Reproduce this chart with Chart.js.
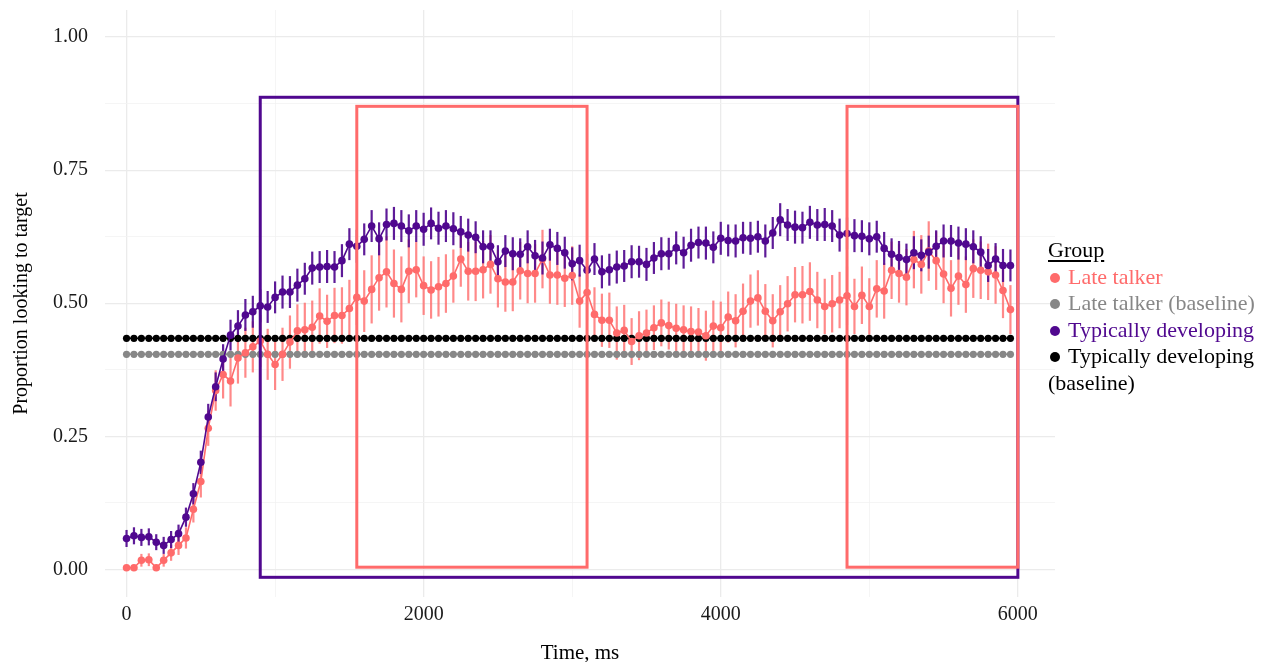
<!DOCTYPE html>
<html>
<head>
<meta charset="utf-8">
<script src="https://cdn.jsdelivr.net/npm/chart.js@4.4.1/dist/chart.umd.min.js"></script>
<style>
html,body{margin:0;padding:0;background:#ffffff;}
#wrap{position:relative;width:1266px;height:662px;overflow:hidden;}
#legend{position:absolute;left:1048px;top:237px;font-family:"Liberation Serif","Times New Roman",serif;font-size:22px;line-height:26.6px;white-space:nowrap;}
#legend .ttl{text-decoration:underline;text-underline-offset:3px;color:#000;}
#legend .dot{display:inline-block;width:10px;height:10px;border-radius:50%;margin-left:2px;margin-right:8px;vertical-align:1px;}
</style>
</head>
<body>
<div id="wrap">
<canvas id="c" width="1266" height="662"></canvas>
<div id="legend"></div>
</div>
<script>
// ---- data ----
const times = Array.from({length: 120}, (_, i) => i * 50); // sampling bins, ms

const lateTalker = [
0.003,0.003,0.017,0.018,0.003,0.017,0.031,0.045,0.059,0.113,
0.165,0.265,0.336,0.366,0.354,0.397,0.407,0.418,0.429,0.404,
0.385,0.404,0.427,0.448,0.450,0.455,0.476,0.466,0.477,0.477,
0.490,0.511,0.504,0.526,0.548,0.559,0.537,0.526,0.560,0.563,
0.533,0.525,0.531,0.537,0.551,0.583,0.560,0.560,0.563,0.573,
0.546,0.540,0.540,0.561,0.556,0.556,0.583,0.553,0.553,0.547,
0.552,0.504,0.520,0.479,0.468,0.468,0.444,0.449,0.428,0.439,
0.444,0.454,0.463,0.458,0.453,0.450,0.447,0.446,0.439,0.457,
0.454,0.474,0.467,0.485,0.504,0.510,0.485,0.467,0.484,0.499,
0.516,0.516,0.522,0.506,0.494,0.499,0.506,0.514,0.494,0.515,
0.494,0.527,0.523,0.562,0.556,0.549,0.582,0.573,0.598,0.580,
0.555,0.528,0.551,0.535,0.565,0.562,0.559,0.553,0.524,0.488
];
const lateTalkerErr = [
0.004,0.004,0.012,0.012,0.004,0.012,0.015,0.018,0.020,0.025,
0.030,0.033,0.038,0.045,0.048,0.048,0.047,0.048,0.049,0.048,
0.048,0.050,0.050,0.050,0.051,0.050,0.052,0.050,0.052,0.053,
0.054,0.052,0.058,0.064,0.062,0.067,0.064,0.062,0.060,0.052,
0.055,0.054,0.056,0.055,0.050,0.052,0.055,0.056,0.054,0.055,
0.054,0.056,0.055,0.054,0.056,0.055,0.055,0.054,0.056,0.054,
0.055,0.050,0.052,0.051,0.050,0.052,0.050,0.048,0.044,0.046,
0.044,0.042,0.044,0.045,0.046,0.046,0.047,0.045,0.047,0.048,
0.049,0.048,0.050,0.052,0.050,0.052,0.051,0.050,0.050,0.052,
0.052,0.054,0.055,0.053,0.052,0.054,0.053,0.055,0.052,0.054,
0.053,0.054,0.052,0.054,0.055,0.053,0.054,0.055,0.056,0.055,
0.055,0.053,0.054,0.053,0.055,0.054,0.053,0.054,0.052,0.046
];
const typicallyDeveloping = [
0.058,0.063,0.060,0.061,0.051,0.045,0.056,0.067,0.098,0.142,
0.201,0.286,0.343,0.395,0.440,0.457,0.478,0.484,0.495,0.493,
0.511,0.521,0.521,0.534,0.546,0.566,0.568,0.569,0.568,0.580,
0.611,0.607,0.620,0.645,0.621,0.648,0.650,0.645,0.636,0.645,
0.639,0.650,0.641,0.645,0.640,0.634,0.628,0.624,0.606,0.607,
0.578,0.598,0.593,0.592,0.606,0.589,0.585,0.610,0.603,0.595,
0.574,0.580,0.562,0.583,0.559,0.563,0.568,0.570,0.578,0.578,
0.573,0.585,0.593,0.593,0.604,0.595,0.609,0.614,0.613,0.605,
0.622,0.618,0.617,0.623,0.622,0.625,0.617,0.632,0.657,0.647,
0.643,0.642,0.652,0.647,0.648,0.645,0.628,0.631,0.627,0.626,
0.621,0.625,0.603,0.592,0.586,0.582,0.595,0.590,0.596,0.607,
0.617,0.617,0.613,0.611,0.606,0.596,0.571,0.583,0.571,0.571
];
const typicallyDevelopingErr = [
0.016,0.016,0.016,0.016,0.015,0.016,0.016,0.017,0.018,0.020,
0.022,0.025,0.027,0.028,0.029,0.030,0.030,0.030,0.031,0.030,
0.030,0.031,0.030,0.031,0.030,0.031,0.030,0.031,0.030,0.031,
0.030,0.031,0.030,0.030,0.031,0.030,0.031,0.030,0.031,0.030,
0.031,0.030,0.031,0.030,0.031,0.030,0.031,0.030,0.031,0.030,
0.031,0.030,0.031,0.030,0.031,0.030,0.031,0.030,0.031,0.030,
0.031,0.030,0.031,0.030,0.031,0.030,0.031,0.030,0.031,0.030,
0.031,0.030,0.031,0.030,0.031,0.030,0.031,0.030,0.031,0.030,
0.031,0.030,0.031,0.030,0.031,0.030,0.031,0.030,0.031,0.030,
0.031,0.030,0.031,0.030,0.031,0.030,0.031,0.030,0.031,0.030,
0.031,0.030,0.031,0.030,0.031,0.030,0.031,0.030,0.031,0.030,
0.031,0.030,0.031,0.030,0.031,0.030,0.031,0.030,0.031,0.030
];
const baselineLateTalker = 0.404;
const baselineTypical = 0.434;

const yTicks = [0, 0.25, 0.5, 0.75, 1];
const yMinorTicks = [0.125, 0.375, 0.625, 0.875];
const xTicks = [0, 2000, 4000, 6000];
const xMinorTicks = [1000, 3000, 5000];

// analysis windows (data space)
const windowsX0 = [900, 1550, 4850];
const windowsX1 = [6000, 3100, 6000];
const windowsY0 = [-0.015, 0.004, 0.004];
const windowsY1 = [0.887, 0.870, 0.870];
const windowsGroup = ['td', 'lt', 'lt'];

// ---- styles ----
const RED = '#FF6B6B';
const RED_BAR = 'rgba(255,107,107,0.8)';
const PURPLE = '#50088F';
const PURPLE_BAR = 'rgba(80,8,143,0.92)';
const GREY = '#878787';
const BLACK = '#000000';

const pts = arr => times.map((t, i) => ({x: t, y: arr[i]}));
const flat = v => times.map(t => ({x: t, y: v}));

const errorBars = {
  id: 'errorBars',
  beforeDatasetsDraw(chart) {
    const {ctx, scales: {x, y}} = chart;
    chart.data.datasets.forEach(ds => {
      if (!ds.errors) return;
      ctx.save();
      ctx.strokeStyle = ds.errColor;
      ctx.lineWidth = 2.2;
      ds.data.forEach((p, i) => {
        const px = x.getPixelForValue(p.x);
        ctx.beginPath();
        ctx.moveTo(px, y.getPixelForValue(p.y - ds.errors[i]));
        ctx.lineTo(px, y.getPixelForValue(p.y + ds.errors[i]));
        ctx.stroke();
      });
      ctx.restore();
    });
  }
};

const windowsPlugin = {
  id: 'windows',
  afterDatasetsDraw(chart) {
    const {ctx, scales: {x, y}} = chart;
    ctx.save();
    ctx.lineWidth = 3;
    windowsX0.forEach((x0, i) => {
      const l = x.getPixelForValue(x0), r = x.getPixelForValue(windowsX1[i]);
      const t = y.getPixelForValue(windowsY1[i]), b = y.getPixelForValue(windowsY0[i]);
      ctx.strokeStyle = windowsGroup[i] === 'td' ? PURPLE : RED;
      ctx.strokeRect(l, t, r - l, b - t);
    });
    ctx.restore();
  }
};

Chart.defaults.font.family = '"Liberation Serif","Times New Roman",serif';
Chart.defaults.color = '#1a1a1a';

const isIn = (arr, v) => arr.some(a => Math.abs(a - v) < 1e-9);

new Chart(document.getElementById('c'), {
  type: 'line',
  data: {
    datasets: [
      {label: 'Typically developing (baseline)', data: flat(baselineTypical), borderColor: BLACK, backgroundColor: BLACK,
       borderWidth: 1.5, pointRadius: 3.6, pointBorderWidth: 0, order: 3},
      {label: 'Late talker (baseline)', data: flat(baselineLateTalker), borderColor: GREY, backgroundColor: GREY,
       borderWidth: 1.5, pointRadius: 3.6, pointBorderWidth: 0, order: 4},
      {label: 'Late talker', data: pts(lateTalker), errors: lateTalkerErr, errColor: RED_BAR, borderColor: RED, backgroundColor: RED,
       borderWidth: 1.6, pointRadius: 3.8, pointBorderWidth: 0, order: 2},
      {label: 'Typically developing', data: pts(typicallyDeveloping), errors: typicallyDevelopingErr, errColor: PURPLE_BAR, borderColor: PURPLE, backgroundColor: PURPLE,
       borderWidth: 1.6, pointRadius: 3.8, pointBorderWidth: 0, order: 1}
    ]
  },
  options: {
    responsive: false,
    animation: false,
    devicePixelRatio: 1,
    layout: {padding: {left: 0, top: 10, right: 211, bottom: 0}},
    plugins: {legend: {display: false}, tooltip: {enabled: false}},
    elements: {line: {tension: 0}},
    scales: {
      x: {
        type: 'linear', min: -145, max: 6250,
        afterBuildTicks: s => { s.ticks = [...xTicks, ...xMinorTicks].sort((a, b) => a - b).map(v => ({value: v})); },
        afterFit: s => { s.height = 65; s.paddingLeft = 0; s.paddingRight = 0; },
        ticks: {
          autoSkip: false, maxRotation: 0, padding: 6,
          font: {size: 20},
          callback: v => isIn(xTicks, v) ? String(v) : ''
        },
        grid: {
          drawTicks: false,
          color: c => isIn(xTicks, c.tick.value) ? '#EBEBEB' : '#F2F2F2',
          lineWidth: c => isIn(xTicks, c.tick.value) ? 1.3 : 0.8
        },
        border: {display: false},
        title: {display: true, text: 'Time, ms', font: {size: 21, lineHeight: 1.0}, padding: {top: 0, bottom: -2}, color: '#000'}
      },
      y: {
        type: 'linear', min: -0.052, max: 1.051,
        afterBuildTicks: s => { s.ticks = [...yTicks, ...yMinorTicks].sort((a, b) => a - b).map(v => ({value: v})); },
        afterFit: s => { s.width = 105; s.paddingTop = 0; s.paddingBottom = 0; },
        ticks: {
          autoSkip: false, padding: 17,
          font: {size: 20},
          callback: v => isIn(yTicks, v) ? v.toFixed(2) : ''
        },
        grid: {
          drawTicks: false,
          color: c => isIn(yTicks, c.tick.value) ? '#EBEBEB' : '#F2F2F2',
          lineWidth: c => isIn(yTicks, c.tick.value) ? 1.3 : 0.8
        },
        border: {display: false},
        title: {display: true, text: 'Proportion looking to target', font: {size: 20}, padding: {top: 10, bottom: 0}, color: '#000'}
      }
    }
  },
  plugins: [errorBars, windowsPlugin]
});

// legend (HTML text)
const legendItems = [
  {text: 'Late talker', color: RED},
  {text: 'Late talker (baseline)', color: GREY},
  {text: 'Typically developing', color: PURPLE},
  {text: 'Typically developing', color: BLACK, cont: '(baseline)'}
];
const lg = document.getElementById('legend');
let html = '<div class="ttl">Group</div>';
legendItems.forEach(it => {
  html += '<div style="color:' + it.color + '"><span class="dot" style="background:' + it.color + '"></span>' + it.text + '</div>';
  if (it.cont) html += '<div style="color:' + it.color + '">' + it.cont + '</div>';
});
lg.innerHTML = html;
</script>
</body>
</html>
